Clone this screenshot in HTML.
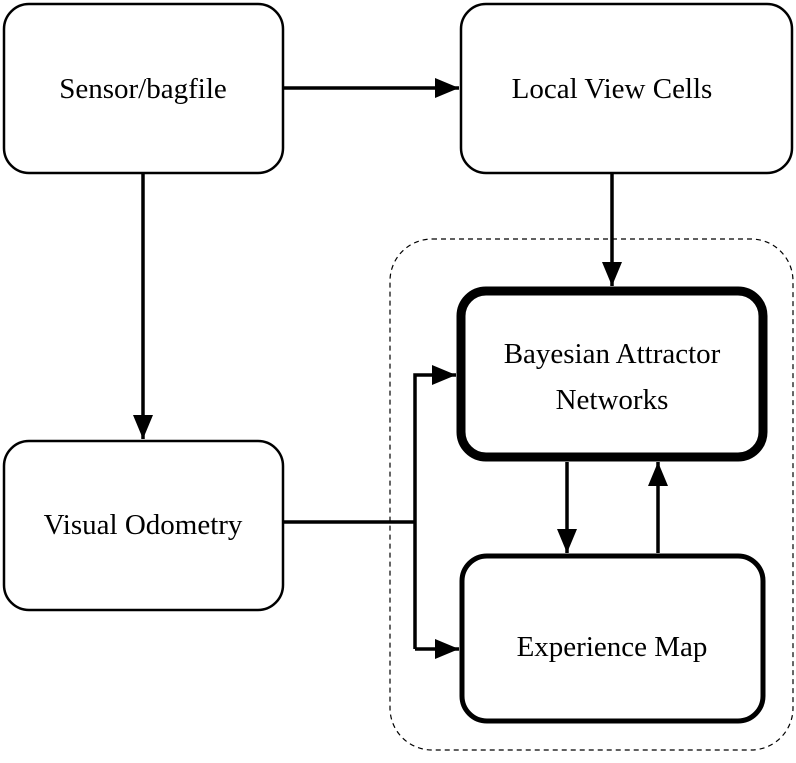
<!DOCTYPE html>
<html><head><meta charset="utf-8"><style>
html,body{margin:0;padding:0;background:#fff;}
svg{display:block;}
text{font-family:"Liberation Serif",serif;font-size:29px;fill:#000;}
</style></head><body>
<svg width="796" height="763" viewBox="0 0 796 763" xmlns="http://www.w3.org/2000/svg">
<defs>
<marker id="a" markerWidth="10" markerHeight="10" refX="10" refY="5" orient="auto" markerUnits="userSpaceOnUse" viewBox="0 0 10 10">
<path d="M0,0 L10,5 L0,10 z" fill="#000"/>
</marker>
<marker id="b" markerWidth="24" markerHeight="20" refX="24" refY="10" orient="auto" markerUnits="userSpaceOnUse" viewBox="0 0 24 20">
<path d="M0,0 L24,10 L0,20 z" fill="#000"/>
</marker>
</defs>
<rect x="390" y="239" width="403" height="511" rx="42" fill="none" stroke="#000" stroke-width="1.2" stroke-dasharray="5,4"/>
<rect x="4" y="4" width="279" height="169" rx="25" fill="#fff" stroke="#000" stroke-width="2.5"/>
<rect x="461" y="4" width="331" height="169" rx="25" fill="#fff" stroke="#000" stroke-width="2.5"/>
<rect x="4" y="441" width="279" height="169" rx="25" fill="#fff" stroke="#000" stroke-width="2.5"/>
<rect x="461" y="291" width="302" height="166" rx="25" fill="#fff" stroke="#000" stroke-width="9"/>
<rect x="462" y="556" width="301" height="165" rx="25" fill="#fff" stroke="#000" stroke-width="5"/>
<g stroke="#000" stroke-width="3.5" fill="none">
<line x1="284" y1="88" x2="459" y2="88" marker-end="url(#b)"/>
<line x1="143" y1="173" x2="143" y2="439" marker-end="url(#b)"/>
<line x1="612" y1="173" x2="612" y2="286" marker-end="url(#b)"/>
<line x1="567" y1="462" x2="567" y2="553" marker-end="url(#b)"/>
<line x1="658" y1="553" x2="658" y2="462" marker-end="url(#b)"/>
<polyline points="284,522 415,522"/>
<polyline points="415,649 415,375 456,375" marker-end="url(#b)"/>
<line x1="415" y1="649" x2="459" y2="649" marker-end="url(#b)"/>
</g>
<text x="143" y="98" text-anchor="middle">Sensor/bagfile</text>
<text x="612" y="98" text-anchor="middle">Local View Cells</text>
<text x="143" y="534" text-anchor="middle">Visual Odometry</text>
<text x="612" y="363" text-anchor="middle">Bayesian Attractor</text>
<text x="612" y="409" text-anchor="middle">Networks</text>
<text x="612" y="656" text-anchor="middle">Experience Map</text>
</svg>
</body></html>
